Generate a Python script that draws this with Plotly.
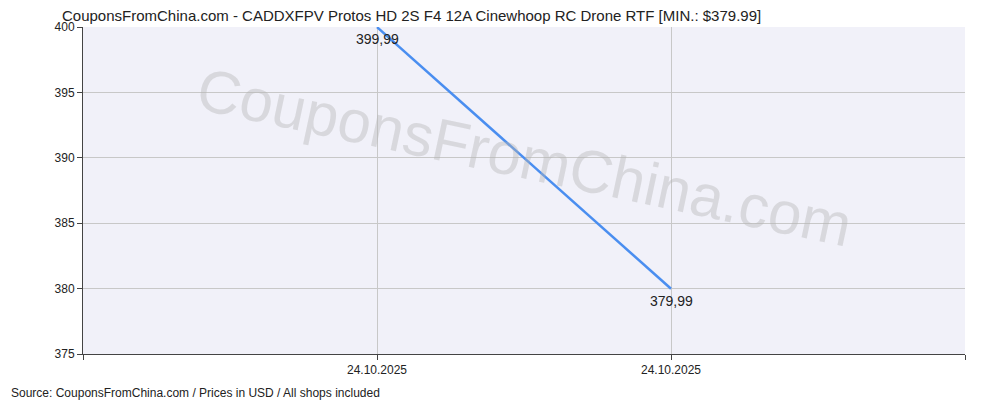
import plotly.graph_objects as go

x_pos = [1, 2]
dates = ["24.10.2025", "24.10.2025"]
prices = [399.99, 379.99]
labels = ["399,99", "379,99"]
title = "CouponsFromChina.com - CADDXFPV Protos HD 2S F4 12A Cinewhoop RC Drone RTF [MIN.: $379.99]"

fig = go.Figure()
fig.add_trace(go.Scatter(x=x_pos, y=prices, mode="lines",
    line=dict(color="#4a8ef0", width=2.5), hoverinfo="skip"))
anns = [dict(x=x, y=y, text=t, showarrow=False, yanchor="top", yshift=-2,
             font=dict(size=14, color="#222")) for x, y, t in zip(x_pos, prices, labels)]
fig.update_layout(
    width=992, height=392, margin=dict(l=75, r=35, t=14, b=46),
    paper_bgcolor="white", plot_bgcolor="#f1f1f9", showlegend=False,
    font=dict(family="Liberation Sans, Arial", size=12, color="#222"),
    xaxis=dict(range=[0, 3], tickvals=[0, 1, 2, 3], ticktext=["", dates[0], dates[1], ""],
               showgrid=True, gridcolor="#c8c8c8", zeroline=False, ticks="outside",
               ticklen=5, tickcolor="#444", showline=True, linecolor="#444"),
    yaxis=dict(range=[375, 400], dtick=5, showgrid=True, gridcolor="#c8c8c8",
               zeroline=False, ticks="outside", ticklen=5, tickcolor="#444",
               showline=True, linecolor="#444"),
    annotations=anns + [
        dict(text=title, xref="paper", yref="paper", x=-0.0265, y=1.0, yshift=22,
             xanchor="left", yanchor="top", showarrow=False, font=dict(size=15, color="#222")),
        dict(text="Source: CouponsFromChina.com / Prices in USD / All shops included",
             xref="paper", yref="paper", x=-0.084, y=0, yshift=-48, xanchor="left",
             yanchor="bottom", showarrow=False, font=dict(size=12, color="#222")),
        dict(text="CouponsFromChina.com", xref="paper", yref="paper", x=0.5, y=0.6,
             showarrow=False, textangle=12, font=dict(size=60, color="rgba(180,180,180,0.4)")),
    ],
)
fig.write_html("out.html")
